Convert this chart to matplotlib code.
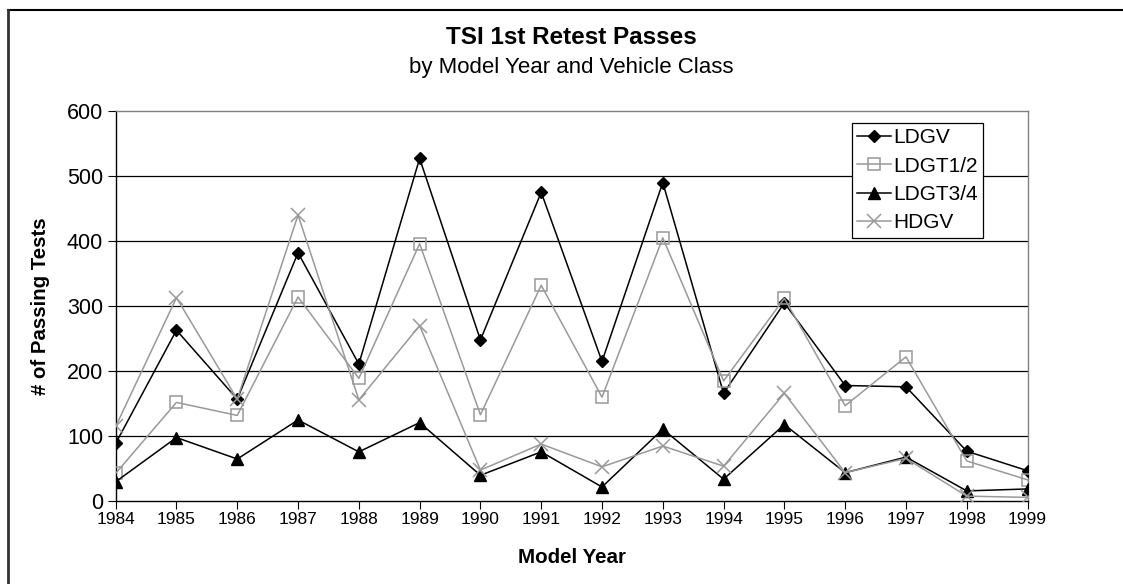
import matplotlib
matplotlib.use("Agg")
import matplotlib.pyplot as plt
from matplotlib.lines import Line2D

years = [1984, 1985, 1986, 1987, 1988, 1989, 1990, 1991, 1992, 1993, 1994, 1995, 1996, 1997, 1998, 1999]
ldgv = [89, 263, 157, 382, 211, 527, 248, 475, 215, 490, 166, 305, 178, 176, 77, 47]
ldgt12 = [43, 152, 132, 314, 189, 396, 133, 332, 160, 405, 185, 312, 147, 222, 62, 33]
ldgt34 = [30, 98, 65, 125, 76, 121, 40, 76, 22, 111, 34, 118, 44, 68, 16, 19]
hdgv = [115, 313, 157, 440, 156, 270, 48, 88, 53, 85, 54, 166, 44, 66, 8, 6]
yticks = [0, 100, 200, 300, 400, 500, 600]

plt.rcParams['font.family'] = ['Liberation Sans', 'DejaVu Sans']

fig = plt.figure(figsize=(11.23, 5.84), dpi=100)
ax = fig.add_axes([0.103, 0.1416, 0.812, 0.6684])

gray = '#999999'
ax.plot(years, ldgv, color='black', lw=1.1, marker='D', ms=6.5, mfc='black', mec='black', label='LDGV', zorder=3)
ax.plot(years, ldgt12, color=gray, lw=1.1, marker='s', ms=8.5, mfc='none', mec=gray, mew=1.1, label='LDGT1/2', zorder=3)
ax.plot(years, ldgt34, color='black', lw=1.1, marker='^', ms=9, mfc='black', mec='black', label='LDGT3/4', zorder=3)
ax.plot(years, hdgv, color=gray, lw=1.1, marker='x', ms=9.5, mec=gray, mew=1.1, label='HDGV', zorder=3)

ax.set_xlim(years[0], years[-1])
ax.set_ylim(0, 600)
ax.set_xticks(years)
ax.set_xticklabels([str(y) for y in years], fontsize=12.5)
ax.set_yticks(yticks)
ax.set_yticklabels([str(v) for v in yticks], fontsize=15.5)
ax.tick_params(axis='both', direction='out', length=6, width=0.8, color='black')
ax.tick_params(axis='x', pad=2)
ax.tick_params(axis='y', pad=3)

for v in yticks[1:-1]:
    ax.axhline(v, color='black', lw=0.9, zorder=1)

ax.spines['left'].set_color('black')
ax.spines['bottom'].set_color('black')
ax.spines['top'].set_color('#808080')
ax.spines['right'].set_color('#808080')
for s in ax.spines.values():
    s.set_linewidth(1.0)

ax.set_xlabel('Model Year', fontsize=14.8, fontweight='bold', labelpad=15)
ax.set_ylabel('# of Passing Tests', fontsize=14.7, fontweight='bold', labelpad=12)

fig.text(0.509, 1 - 38 / 584, 'TSI 1st Retest Passes', ha='center', va='center', fontsize=17.5, fontweight='bold')
fig.text(0.509, 1 - 67 / 584, 'by Model Year and Vehicle Class', ha='center', va='center', fontsize=16)

leg = ax.legend(loc='upper left', bbox_to_anchor=(852 / 1123, 1 - 123 / 584), bbox_transform=fig.transFigure,
                fontsize=15, frameon=True, fancybox=False, framealpha=1, edgecolor='black',
                handlelength=1.6, handletextpad=0.12, labelspacing=0.45, borderpad=0.25, borderaxespad=0)
leg.get_frame().set_linewidth(0.9)
leg.set_zorder(5)

fig.add_artist(Line2D([8 / 1123, 1], [1 - 9.5 / 584, 1 - 9.5 / 584], color='black', lw=1.5, transform=fig.transFigure))
fig.add_artist(Line2D([8 / 1123, 8 / 1123], [0, 1 - 9.5 / 584], color='#333333', lw=2, transform=fig.transFigure))

fig.savefig('out.png', dpi=100)
